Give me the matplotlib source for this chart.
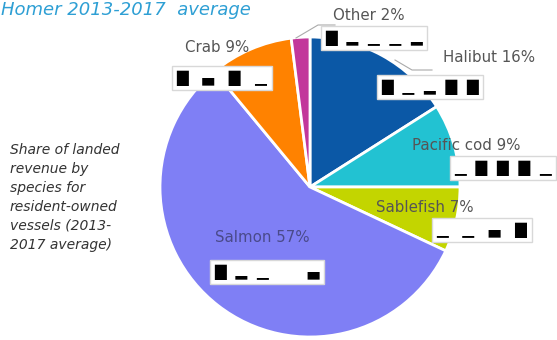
import matplotlib.pyplot as plt

# data
species = ['Halibut', 'Pacific cod', 'Sablefish', 'Salmon', 'Crab', 'Other']
shares = [16, 9, 7, 57, 9, 2]
colors = ['#0b58a6', '#22c2d2', '#c3d500', '#7f7ff5', '#ff8200', '#c2379b']
# redacted value boxes under each label (kept as block glyphs)
redacted = ['█  ▁  ▂  █  █', '▁  █  █  █  ▁', '▁   ▁   ▄   █', '█  ▂  ▁        ▄',
            '█   ▄   █   ▁', '█  ▂  ▁  ▁  ▂']

# label placement in pixel coords (x, y from top)
label_pos = [(489, 57), (466, 145), (425, 208), (262, 238), (217, 47), (369, 15)]
box_pos = [(430, 87), (503, 168), (482, 230), (267, 272), (222, 78), (374, 38)]

W, H = 557, 340
fig = plt.figure(figsize=(W / 100, H / 100), dpi=100)
ax = fig.add_axes([0, 0, 1, 1])

ax.pie(shares, colors=colors, startangle=90, counterclock=False,
       center=(310, H - 187), radius=150, frame=True,
       wedgeprops=dict(edgecolor='white', linewidth=2))
ax.set_xlim(0, W)
ax.set_ylim(0, H)
ax.axis('off')

txt_col = '#555555'
for name, s, (lx, ly), (bx, by), red in zip(species, shares, label_pos, box_pos, redacted):
    c = '#4a4a8a' if name == 'Salmon' else txt_col
    ax.text(lx, H - ly, f'{name} {s}%', ha='center', va='center',
            fontsize=10.8, color=c, family='DejaVu Sans', weight='medium')
    ax.text(bx, H - by, red, ha='center', va='center', fontsize=11, color='black',
            family='DejaVu Sans',
            bbox=dict(boxstyle='square,pad=0.3', fc='white', ec='#d8d8d8', lw=1))

# leader lines
ax.plot([296, 318, 335], [H - 38, H - 25, H - 25], color='#aaaaaa', lw=0.8)
ax.plot([395, 412, 432], [H - 60, H - 70, H - 70], color='#aaaaaa', lw=0.8)

# title and side note
ax.text(1, H - 1, 'Homer 2013-2017  average', ha='left', va='top',
        fontsize=13, style='italic', color='#2e9fd4')
note = ('Share of landed\nrevenue by\nspecies for\nresident-owned\n'
        'vessels (2013-\n2017 average)')
ax.text(10, H - 143, note, ha='left', va='top', fontsize=10, style='italic',
        color='#333333', linespacing=1.45)

fig.savefig('out.png', dpi=100)
